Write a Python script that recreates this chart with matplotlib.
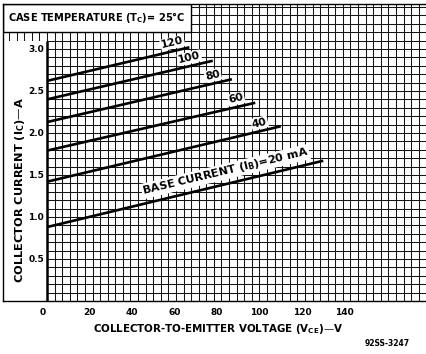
import numpy as np
import matplotlib
matplotlib.use("Agg")
import matplotlib.pyplot as plt
from matplotlib.patches import Rectangle

# collector characteristics, Tc = 25 C, one straight line per base current
base_ma = [20, 40, 60, 80, 100, 120]
ic_start = [0.88, 1.42, 1.79, 2.13, 2.40, 2.62]   # A at Vce = 0
vce_end = [130, 110, 98, 87, 78, 67]              # V where the curve stops
ic_end = [1.67, 2.08, 2.36, 2.64, 2.86, 3.02]     # A at that point

x_ticks = [0, 20, 40, 60, 80, 100, 120, 140]
y_ticks = [0.5, 1.0, 1.5, 2.0, 2.5, 3.0]

# where the curve labels sit (V along each curve)
label_v = [84, 100, 89, 78, 67, 59]

plt.rcParams['font.family'] = ['DejaVu Sans']
plt.rcParams['font.weight'] = 'bold'
plt.rcParams['mathtext.fontset'] = 'dejavusans'

W, H = 427, 354
fig = plt.figure(figsize=(W / 100, H / 100), dpi=100)
fig.patch.set_facecolor('white')

# frame in pixels: left 3, right 426, top 4, bottom (zero current) 301
px_v = 2.125     # pixels per volt
px_a = 84.0      # pixels per amp
x0, x1, y_top, y_bot = 3, 426, 4, 301
ax = fig.add_axes([x0 / W, (H - y_bot) / H, (x1 - x0) / W, (y_bot - y_top) / H])
xmin = -(47 - x0) / px_v
xmax = (x1 - 47) / px_v
ymax = (y_bot - y_top) / px_a
ax.set_xlim(xmin, xmax)
ax.set_ylim(0, ymax)
ax.set_xticks([])
ax.set_yticks([])
for s in ax.spines.values():
    s.set_linewidth(1.0)
ax.spines['right'].set_visible(False)

# graph paper
cell_v = 3.57
cols = np.arange(np.floor(xmin / cell_v), np.ceil(xmax / cell_v) + 1) * cell_v
rows = np.arange(0, ymax + 0.1, 0.1)
ax.vlines(cols, 0, ymax, color='#151515', lw=0.75, zorder=1)
ax.hlines(rows, xmin, xmax, color='#151515', lw=0.75, zorder=1)

# blank panels: title box and the label strip on the left
ax.add_patch(Rectangle((xmin, 3.2), 19 * cell_v - xmin, ymax - 3.2,
                       facecolor='white', edgecolor='black', lw=1.0, zorder=2))
ax.add_patch(Rectangle((xmin, 0), -xmin, 3.1,
                       facecolor='white', edgecolor='none', zorder=2))
ax.plot([0, 0], [0, 3.1], color='black', lw=1.8, zorder=3, solid_capstyle='butt')

ax.text(xmin + 2.2, 3.37, 'CASE TEMPERATURE (T$_\\mathbf{C}$)= 25°C',
        fontsize=7.1, ha='left', va='center', zorder=4)

# curves and their labels
for i, ib in enumerate(base_ma):
    vv = [0, vce_end[i]]
    ii = [ic_start[i], ic_end[i]]
    ax.plot(vv, ii, color='black', lw=1.9, zorder=3, solid_capstyle='butt')
    slope = (ic_end[i] - ic_start[i]) / vce_end[i]
    ang = np.degrees(np.arctan(slope))
    lv = label_v[i]
    if ib == 20:
        txt = 'BASE CURRENT (I$_\\mathbf{B}$)=20 mA'
        off = 0.15
        fs = 8
    else:
        txt = str(ib)
        off = 0.10
        fs = 7.8
    ax.text(lv, ic_start[i] + slope * lv + off, txt, fontsize=fs,
            ha='center', va='center', rotation=ang, rotation_mode='anchor',
            transform_rotates_text=True, zorder=5,
            bbox=dict(facecolor='white', edgecolor='none', pad=0.6))

# tick labels
for v in x_ticks:
    xs = v - 1.8 if v == 0 else v
    ax.text(xs, -0.14, str(v), fontsize=6.5, ha='center', va='center',
            clip_on=False)
for a in y_ticks:
    ax.text(-1.4, a, f'{a:.1f}', fontsize=6.5, ha='right', va='center', zorder=4)

ax.text(xmin + 8, 1.32, 'COLLECTOR CURRENT (I$_\\mathbf{C}$)—A', fontsize=8.2,
        rotation=90, ha='center', va='center', zorder=4)
fig.text(218 / W, 1 - 329 / H, 'COLLECTOR-TO-EMITTER VOLTAGE (V$_\\mathbf{CE}$)—V',
         fontsize=7.4, ha='center', va='center')
fig.text(410 / W, 1 - 343 / H, '92SS-3247', fontsize=5.5, ha='right', va='center')

fig.savefig('out.png', dpi=100, facecolor='white')
